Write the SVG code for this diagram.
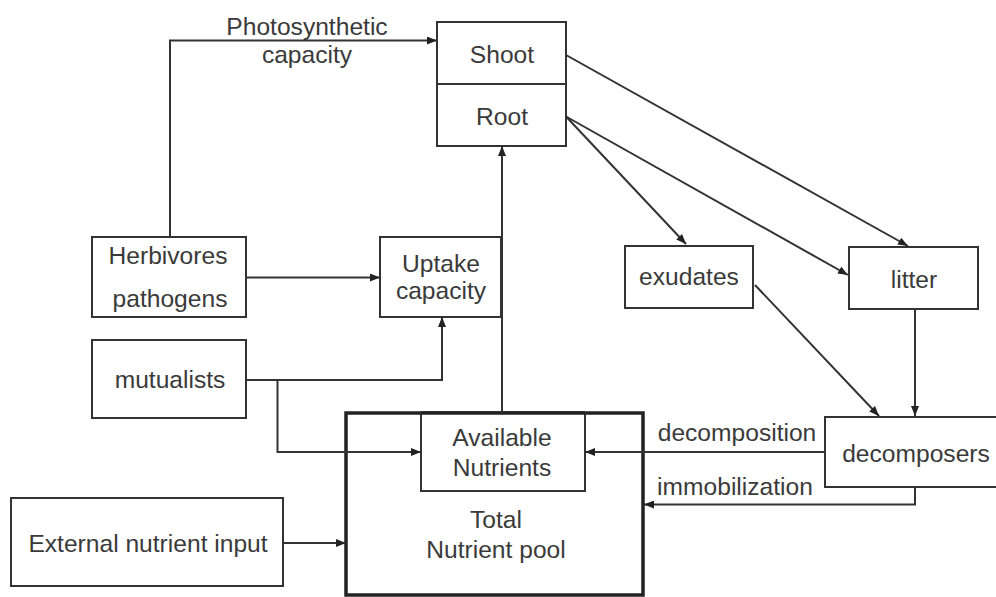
<svg xmlns="http://www.w3.org/2000/svg" width="996" height="597" viewBox="0 0 996 597">
<defs>
<marker id="ah" viewBox="0 0 10 8" refX="10" refY="4" markerWidth="10" markerHeight="8" markerUnits="userSpaceOnUse" orient="auto">
<path d="M0,0 L10,4 L0,8 Z" fill="#222"/>
</marker>
<style>
.box{fill:#fff;stroke:#333;stroke-width:2}
.thick{fill:none;stroke:#222;stroke-width:3.5}
.t{font-family:"Liberation Sans",Arial,sans-serif;font-size:24.6px;fill:#3a3a3a;text-anchor:middle}
.c{fill:none;stroke:#333;stroke-width:2;marker-end:url(#ah)}
.l{fill:none;stroke:#333;stroke-width:2}
</style>
</defs>
<rect width="996" height="597" fill="#fff"/>

<g id="total-pool">
<rect x="346" y="413" width="297" height="182" class="thick"/>
<text class="t" x="496" y="528">Total</text>
<text class="t" x="496" y="558">Nutrient pool</text>
</g>
<g id="available">
<rect x="421" y="413" width="164" height="78" class="box"/>
<line x1="421" y1="413" x2="585" y2="413" stroke="#222" stroke-width="3.5"/>
<text class="t" x="502" y="446">Available</text>
<text class="t" x="502" y="476">Nutrients</text>
</g>
<g id="shoot-root">
<rect x="437" y="22" width="129" height="124" class="box"/>
<line x1="437" y1="84" x2="566" y2="84" stroke="#333" stroke-width="2"/>
<text class="t" x="502" y="63">Shoot</text>
<text class="t" x="502" y="125">Root</text>
</g>
<g id="herbivores">
<rect x="92" y="237" width="154" height="80" class="box"/>
<text class="t" x="168" y="264">Herbivores</text>
<text class="t" x="170" y="307">pathogens</text>
</g>
<g id="uptake">
<rect x="380" y="237" width="121" height="80" class="box"/>
<text class="t" x="441" y="272">Uptake</text>
<text class="t" x="441" y="299">capacity</text>
</g>
<g id="mutualists">
<rect x="92" y="340" width="154" height="78" class="box"/>
<text class="t" x="170" y="388">mutualists</text>
</g>
<g id="exudates">
<rect x="625" y="246" width="128" height="62" class="box"/>
<text class="t" x="689" y="285">exudates</text>
</g>
<g id="litter">
<rect x="849" y="247" width="129" height="62" class="box"/>
<text class="t" x="914" y="288">litter</text>
</g>
<g id="decomposers">
<rect x="825" y="417" width="180" height="70" class="box"/>
<text class="t" x="916" y="462">decomposers</text>
</g>
<g id="external">
<rect x="11" y="498" width="272" height="88" class="box"/>
<text class="t" x="148" y="552">External nutrient input</text>
</g>

<g id="connectors">
<path class="c" d="M170,237 V40.5 H437"/>
<path class="c" d="M246,277.5 H380"/>
<path class="c" d="M246,380 H442 V317"/>
<path class="c" d="M277.5,380 V452 H421"/>
<path class="c" d="M502,413 V146"/>
<path class="c" d="M566,55 L908,246"/>
<path class="c" d="M566,116.5 L686,244"/>
<path class="c" d="M566,116.5 L848,275"/>
<path class="c" d="M755,285 L879,416"/>
<path class="c" d="M915,309 V416"/>
<path class="c" d="M825,452 H585"/>
<path class="c" d="M915,487 V504.5 H644"/>
<path class="c" d="M283,543 H346"/>
</g>
<g id="labels">
<text class="t" x="307" y="35">Photosynthetic</text>
<text class="t" x="307" y="63">capacity</text>
<text class="t" x="737" y="441">decomposition</text>
<text class="t" x="735" y="495">immobilization</text>
</g>
</svg>
